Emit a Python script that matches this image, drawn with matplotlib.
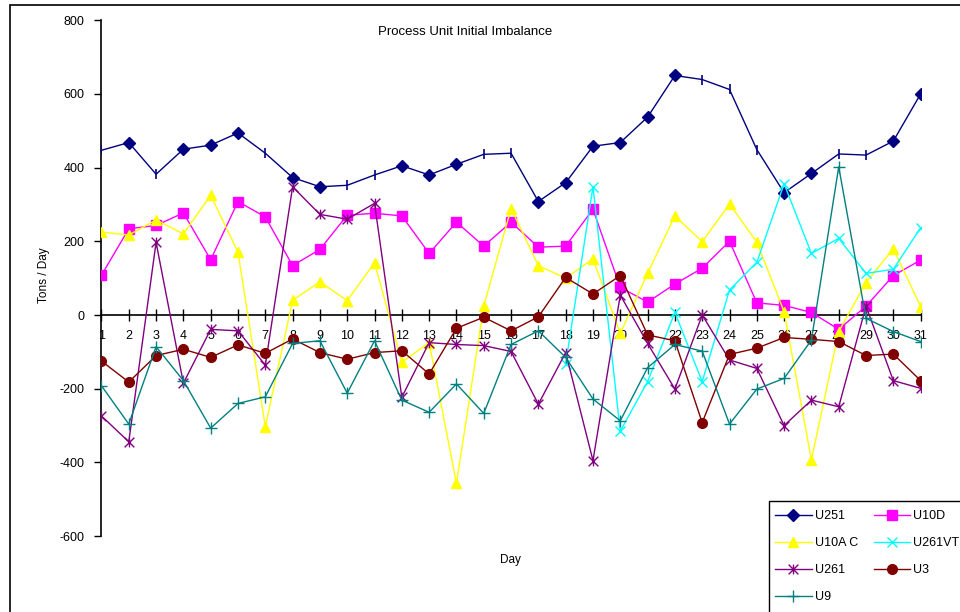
import numpy as np
import matplotlib
matplotlib.use("Agg")
import matplotlib.pyplot as plt
from matplotlib.path import Path
from matplotlib.patches import Rectangle

plt.rcParams['font.family'] = ['Liberation Sans', 'DejaVu Sans']
plt.rcParams['axes.unicode_minus'] = False

# Daily imbalance per process unit (tons/day)
days = list(range(1, 32))
u251 = [447, 468, 382, 450, 461, 494, 439, 373, 348, 352, 380, 405, 380, 409, 436, 439,
        308, 359, 458, 468, 537, 650, 639, 612, 449, 332, 384, 437, 434, 472, 600]
u10d = [108, 234, 243, 277, 150, 308, 266, 134, 178, 271, 276, 269, 167, 252, 187, 252,
        184, 187, 287, 75, 35, 84, 127, 200, 33, 26, 7, -39, 24, 107, 149]
u10ac = [225, 217, 258, 220, 325, 170, -303, 40, 90, 39, 142, -128, -75, -457, 24, 289,
         134, 100, 152, -50, 113, 269, 199, 301, 198, 9, -393, -45, 88, 180, 23]
u261vt = [np.nan] * 17 + [-133, 348, -315, -181, 7, -181, 68, 143, 356, 167, 208, 113, 124, 237]
u261 = [-274, -344, 197, -185, -39, -43, -136, 348, 273, 260, 303, -223, -75, -80, -83, -99,
        -242, -102, -395, 54, -77, -201, 0, -122, -145, -300, -231, -249, 24, -178, -199]
u3 = [-125, -182, -110, -93, -115, -81, -104, -65, -102, -120, -102, -97, -160, -36, -6, -43,
      -5, 102, 57, 107, -54, -70, -292, -107, -90, -61, -66, -72, -110, -106, -178]
u9 = [-192, -296, -86, -178, -307, -240, -222, -77, -70, -212, -70, -231, -264, -187, -267, -80,
      -43, -115, -228, -287, -143, -80, -98, -296, -201, -172, -68, 402, -9, -45, -72]

# days where the U251 marker shows up as a thin bar instead of a diamond
u251_bar_days = [1, 3, 7, 10, 11, 15, 16, 23, 24, 25, 28, 29]

# excel style star: an x with a vertical bar through it
star = Path([(0, -1), (0, 1), (-1, -1), (1, 1), (-1, 1), (1, -1)],
            [Path.MOVETO, Path.LINETO, Path.MOVETO, Path.LINETO, Path.MOVETO, Path.LINETO])

fig = plt.figure(figsize=(9.6, 6.12), dpi=100)
ax = fig.add_axes([0.1057, 0.124, 0.8533, 0.843])

lw = 1.0
bar_idx = [d - 1 for d in u251_bar_days]
dia_idx = [i for i in range(len(days)) if i not in bar_idx]
ax.plot(days, u251, color='#000080', lw=lw, marker='D', ms=6, markevery=dia_idx,
        label='U251', zorder=3)
ax.plot([days[i] for i in bar_idx], [u251[i] for i in bar_idx], ls='none', marker='|',
        ms=7, mew=1.2, color='#000080', zorder=3)
ax.plot(days, u10d, color='#FF00FF', lw=lw, marker='s', ms=7, label='U10D', zorder=3)
ax.plot(days, u10ac, color='#FFFF00', lw=lw, marker='^', ms=7.5, label='U10A C', zorder=3)
ax.plot(days, u261vt, color='#00FFFF', lw=lw, marker='x', ms=7, mew=1.0, label='U261VT', zorder=3)
ax.plot(days, u261, color='#800080', lw=lw, marker=star, ms=7, mew=1.0, label='U261', zorder=3)
ax.plot(days, u3, color='#800000', lw=lw, marker='o', ms=7, label='U3', zorder=3)
ax.plot(days, u9, color='#008080', lw=lw, marker='+', ms=8, mew=1.0, label='U9', zorder=3)

ax.set_xlim(1, 31)
ax.set_ylim(-600, 800)
ax.set_yticks(range(-600, 801, 200))
ax.set_xticks(days)

for side in ['top', 'right']:
    ax.spines[side].set_visible(False)
ax.spines['bottom'].set_position(('data', 0))
ax.spines['bottom'].set_linewidth(1.2)
ax.spines['left'].set_linewidth(1.2)
ax.tick_params(axis='x', direction='inout', length=9, width=1.0, labelsize=9, pad=6)
ax.tick_params(axis='y', direction='out', length=5, width=1.0, labelsize=9, pad=7)

fig.text(465 / 960, 1 - 32 / 612, 'Process Unit Initial Imbalance', fontsize=9.5,
         ha='center', va='center')
fig.text(510 / 960, 1 - 560 / 612, 'Day', fontsize=8.5, ha='center', va='center')
fig.text(44 / 960, 1 - 275 / 612, 'Tons / Day', fontsize=8.5, ha='center', va='center',
         rotation=90)

# legend reads row by row: reorder handles for matplotlib's column-first fill
handles, labels = ax.get_legend_handles_labels()
order = [0, 2, 4, 6, 1, 3, 5]
leg = fig.legend([handles[i] for i in order], [labels[i] for i in order],
                 loc='upper left', bbox_to_anchor=(769 / 960, 1 - 504 / 612), ncol=2,
                 fontsize=9, frameon=False, handlelength=2.9, labelspacing=1.2,
                 columnspacing=1.2, handletextpad=0.3, borderpad=0.5, borderaxespad=0)

# legend box runs off the bottom right corner
fig.patches.append(Rectangle((769 / 960, -0.1), 0.5, 0.1 + 1 - 501 / 612,
                             transform=fig.transFigure, fill=False, edgecolor='black', lw=1.0))

# chart area border
fig.patches.append(Rectangle((10 / 960, -0.1), 1.2, 1.1 - 5 / 612, transform=fig.transFigure,
                             fill=False, edgecolor='black', lw=1.2))

fig.savefig('out.png', dpi=100)
